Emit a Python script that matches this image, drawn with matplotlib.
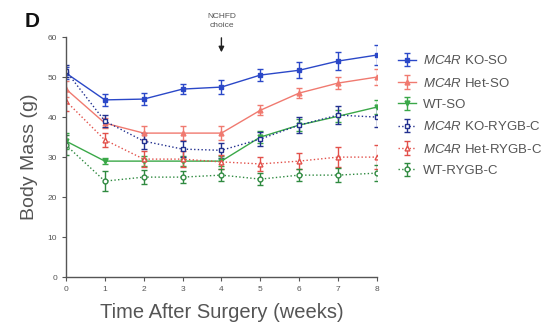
import numpy as np
import matplotlib.pyplot as plt

plt.rcParams['font.family'] = ['Liberation Sans', 'DejaVu Sans']
plt.rcParams['mathtext.fontset'] = 'custom'
plt.rcParams['mathtext.it'] = 'Liberation Sans:italic'
plt.rcParams['mathtext.rm'] = 'Liberation Sans'

weeks = [0, 1, 2, 3, 4, 5, 6, 7, 8]

ko_so = [51, 44.3, 44.5, 47, 47.5, 50.5, 51.7, 54, 55.5]
het_so = [47, 38.5, 36, 36, 36, 41.7, 46, 48.5, 50]
wt_so = [34, 29, 29, 29, 29, 35, 38, 40.2, 42.5]
ko_rygb = [51.5, 39, 34, 32, 31.7, 34.5, 38, 40.5, 40]
het_rygb = [44, 34.3, 29.5, 29.5, 28.8, 28.3, 29, 30, 30]
wt_rygb = [33, 24, 25, 25, 25.5, 24.5, 25.5, 25.5, 26]

ko_so_err = [1.5, 1.5, 1.5, 1.2, 1.8, 1.5, 2.0, 2.2, 2.5]
het_so_err = [2.0, 1.2, 1.8, 1.8, 1.8, 1.2, 1.2, 1.5, 2.0]
wt_so_err = [2.0, 0.8, 1.2, 1.2, 1.2, 1.5, 1.5, 1.5, 1.8]
ko_rygb_err = [1.5, 1.5, 2.0, 2.0, 1.8, 1.8, 2.0, 2.2, 2.5]
het_rygb_err = [2.5, 1.8, 2.0, 2.0, 1.8, 1.8, 2.0, 2.5, 3.0]
wt_rygb_err = [2.5, 2.5, 1.8, 1.5, 1.5, 1.5, 1.5, 1.8, 2.0]

series = [
    (r'$\it{MC4R}$ KO-SO', ko_so, ko_so_err, '#2b48c8', 's', '-', True),
    (r'$\it{MC4R}$ Het-SO', het_so, het_so_err, '#f07a70', '^', '-', True),
    ('WT-SO', wt_so, wt_so_err, '#3aa848', 'v', '-', True),
    (r'$\it{MC4R}$ KO-RYGB-C', ko_rygb, ko_rygb_err, '#22308f', 's', ':', False),
    (r'$\it{MC4R}$ Het-RYGB-C', het_rygb, het_rygb_err, '#e2504a', '^', ':', False),
    ('WT-RYGB-C', wt_rygb, wt_rygb_err, '#2f8a40', 'o', ':', False),
]

fig = plt.figure(figsize=(5.43, 3.28), dpi=100)
ax = fig.add_axes([0.1215, 0.155, 0.5725, 0.732])

for label, y, err, color, marker, ls, filled in series:
    ax.errorbar(weeks, y, yerr=err, color=color, marker=marker, ls=ls,
                lw=1.0, ms=3.5, mfc=color if filled else 'white', mec=color,
                mew=1.0, elinewidth=1.0, capsize=2.5, capthick=1.0,
                label=label)

ax.set_xlim(0, 8)
ax.set_ylim(0, 60)
ax.set_xticks(weeks)
ax.set_yticks(range(0, 61, 10))
ax.tick_params(labelsize=6, colors='#555555', length=3, width=0.8)
for s in ['top', 'right']:
    ax.spines[s].set_visible(False)
for s in ['left', 'bottom']:
    ax.spines[s].set_color('#555555')
    ax.spines[s].set_linewidth(1.0)
ax.spines['left'].set_bounds(0, 60)

ax.set_xlabel('Time After Surgery (weeks)', fontsize=14.5, color='#555555', labelpad=7)
ax.set_ylabel('Body Mass (g)', fontsize=14, color='#555555', labelpad=7)

ax.annotate('', xy=(4, 55.5), xytext=(4, 60.5), annotation_clip=False,
            arrowprops=dict(arrowstyle='-|>', color='#222222', lw=1.0, mutation_scale=8))
ax.text(4, 62, 'NCHFD\nchoice', ha='center', va='bottom', fontsize=6,
        color='#555555', linespacing=1.5, clip_on=False)

fig.text(0.046, 0.917, 'D', fontsize=15, fontweight='bold', color='#111111')

ax.legend(loc='upper left', bbox_to_anchor=(1.05, 0.95), frameon=False,
          fontsize=9.5, labelcolor='#555555', handlelength=1.4, labelspacing=0.7,
          handletextpad=0.5, borderaxespad=0)

plt.savefig('out.png', dpi=100)
